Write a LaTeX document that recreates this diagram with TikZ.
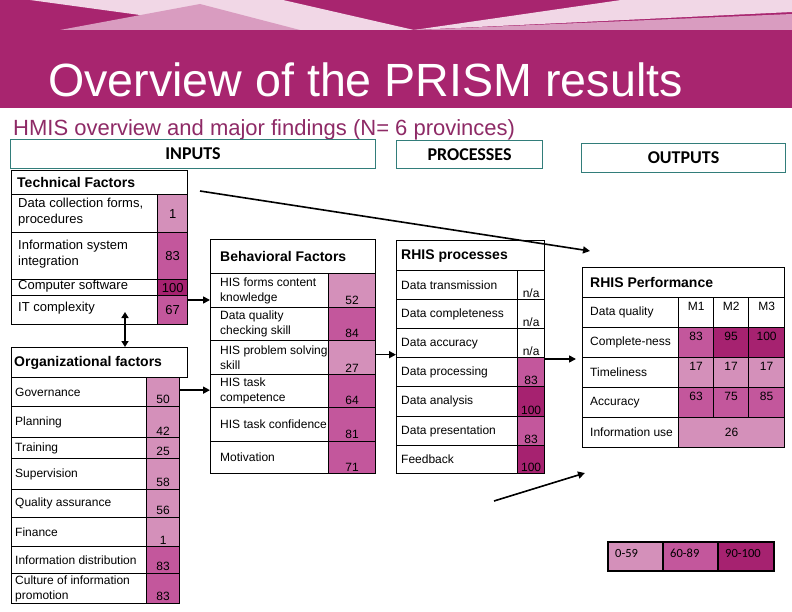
\documentclass[tikz,border=0pt]{standalone}
\usepackage{fontspec}
\setmainfont{Liberation Sans}
\newfontfamily\calfont{Carlito}
\usetikzlibrary{positioning}
\usetikzlibrary{calc}
\usetikzlibrary{arrows.meta}
\definecolor{prism-mag}{HTML}{A8256F}
\definecolor{prism-sub}{HTML}{8E2A66}
\definecolor{prism-teal}{HTML}{327D7A}
\definecolor{hd-pale}{HTML}{F1D7E6}
\definecolor{hd-lt}{HTML}{D99CC0}
\definecolor{sc-lo}{HTML}{D490BA}
\definecolor{sc-mid}{HTML}{C3579C}
\definecolor{sc-hi}{HTML}{A62270}
\tikzset{
  cell/.style={draw=black, line width=1.3pt, anchor=north west, inner sep=0pt},
  lbl/.style={inner sep=0pt, align=left, font=\fontsize{12}{15}\selectfont},
  num/.style={inner sep=2pt, font=\fontsize{12}{14}\selectfont},
  head/.style={inner sep=0pt, font=\bfseries\fontsize{14}{16}\selectfont},
  sect/.style={draw=prism-teal, line width=1.1pt, anchor=north west,
    font=\calfont\bfseries\fontsize{18}{20}\selectfont},
  arr/.style={line width=1.6pt, -{Triangle[length=7pt,width=7pt]}},
}

\begin{document}
\begin{tikzpicture}[x=1pt, y=-1pt]
  \useasboundingbox (0,0) rectangle (792,612);

  % title band
  \fill[prism-mag] (0,0) rectangle (792,108);
  \fill[hd-pale] (30,0) -- (283,0) -- (414,30) -- (250,30) -- cycle;
  \fill[hd-lt] (60,30) -- (200,4) -- (300,30) -- cycle;
  \fill[hd-pale] (621,0) -- (792,0) -- (792,12) -- (414,30) -- cycle;
  \fill[hd-lt] (414,30) -- (792,14) -- (792,30) -- cycle;
  \node[inner sep=0pt, anchor=base west, text=white,
    font=\fontsize{46.6}{50}\selectfont] (ttl) at (48,97) {Overview of the PRISM results};
  \node[inner sep=0pt, anchor=base west, text=prism-sub,
    font=\fontsize{22}{24}\selectfont] (sub) at (13,136) {HMIS overview and major findings (N= 6 provinces)};

  % section boxes
  \node[sect, minimum width=365pt, minimum height=29pt] (s-in) at (10,139) {INPUTS};
  \node[sect, minimum width=146pt, minimum height=28pt] (s-pr) at (396,140) {PROCESSES};
  \node[sect, minimum width=204pt, minimum height=29pt] (s-out) at (581,143) {OUTPUTS};

  % technical factors
  \node[cell, minimum width=176pt, minimum height=24pt] (tf-t) at (11,170) {};
  \node[head, right=6pt of tf-t.west] (tf-h) {Technical Factors};
  \foreach \lab/\val/\ya/\yb/\col [count=\i] in {
      {Data collection forms,\\procedures}/1/194/232/sc-lo,
      {Information system\\integration}/83/232/279/sc-mid,
      {Computer software}/100/279/295/sc-hi,
      {IT complexity}/67/295/324/sc-mid} {
    \pgfmathsetmacro{\h}{\yb-\ya}
    \node[cell, minimum width=146pt, minimum height=\h pt] (tf-l\i) at (11,\ya) {};
    \node[cell, fill=\col, minimum width=30pt, minimum height=\h pt] (tf-v\i) at (157,\ya) {};
    \node[lbl, font=\fontsize{13}{16}\selectfont, right=7pt of tf-l\i.west, yshift=2pt] (tf-lt\i) {\lab};
    \node[num, font=\fontsize{13}{15}\selectfont] (tf-n\i) at (tf-v\i.center) {\val};
  }

  % organizational factors
  \node[cell, minimum width=176pt, minimum height=30pt] (og-t) at (11,347) {};
  \node[head, right=3pt of og-t.west] (og-h) {Organizational factors};
  \foreach \lab/\val/\ya/\yb/\col [count=\i] in {
      Governance/50/377/406/sc-lo,
      Planning/42/406/437/sc-lo,
      Training/25/437/458/sc-lo,
      Supervision/58/458/489/sc-lo,
      Quality assurance/56/489/517/sc-lo,
      Finance/1/517/546/sc-lo,
      Information distribution/83/546/573/sc-mid,
      {Culture of information\\promotion}/83/573/603/sc-mid} {
    \pgfmathsetmacro{\h}{\yb-\ya}
    \node[cell, minimum width=135pt, minimum height=\h pt] (og-l\i) at (11,\ya) {};
    \node[cell, fill=\col, minimum width=33pt, minimum height=\h pt] (og-v\i) at (146,\ya) {};
    \node[lbl, right=4pt of og-l\i.west] (og-lt\i) {\lab};
    \node[num, above=1pt of og-v\i.south] (og-n\i) {\val};
  }

  % behavioral factors
  \node[cell, minimum width=165pt, minimum height=34pt] (bf-t) at (210,239) {};
  \node[head, right=10pt of bf-t.west] (bf-h) {Behavioral Factors};
  \foreach \lab/\val/\ya/\yb/\col [count=\i] in {
      {HIS forms content\\knowledge}/52/273/307/sc-lo,
      {Data quality\\checking skill}/84/307/340/sc-mid,
      {HIS problem solving\\skill}/27/340/374/sc-lo,
      {HIS task\\competence}/64/374/407/sc-mid,
      {HIS task confidence}/81/407/441/sc-mid,
      {Motivation}/71/441/473/sc-mid} {
    \pgfmathsetmacro{\h}{\yb-\ya}
    \node[cell, minimum width=118pt, minimum height=\h pt] (bf-l\i) at (210,\ya) {};
    \node[cell, fill=\col, minimum width=47pt, minimum height=\h pt] (bf-v\i) at (328,\ya) {};
    \node[lbl, right=10pt of bf-l\i.west] (bf-lt\i) {\lab};
    \node[num, above=1pt of bf-v\i.south] (bf-n\i) {\val};
  }

  % RHIS processes
  \node[cell, minimum width=148pt, minimum height=30pt] (rp-t) at (396,240) {};
  \node[head, right=5pt of rp-t.west] (rp-h) {RHIS processes};
  \foreach \lab/\val/\ya/\yb/\col [count=\i] in {
      Data transmission/n\slash a/270/299/white,
      Data completeness/n\slash a/299/328/white,
      Data accuracy/n\slash a/328/357/white,
      Data processing/83/357/386/sc-mid,
      Data analysis/100/386/416/sc-hi,
      Data presentation/83/416/445/sc-mid,
      Feedback/100/445/473/sc-hi} {
    \pgfmathsetmacro{\h}{\yb-\ya}
    \node[cell, minimum width=121pt, minimum height=\h pt] (rp-l\i) at (396,\ya) {};
    \node[cell, fill=\col, minimum width=27pt, minimum height=\h pt] (rp-v\i) at (517,\ya) {};
    \node[lbl, right=5pt of rp-l\i.west] (rp-lt\i) {\lab};
    \node[num, above=0pt of rp-v\i.south] (rp-n\i) {\val};
  }

  % RHIS performance
  \node[cell, minimum width=202pt, minimum height=30pt] (pf-t) at (582,267) {};
  \node[head, right=8pt of pf-t.west] (pf-h) {RHIS Performance};
  \foreach \lab/\va/\fa/\vb/\fb/\vc/\fc [count=\i] in {
      Data quality/M1/white/M2/white/M3/white,
      Complete-ness/83/sc-mid/95/sc-hi/100/sc-hi,
      Timeliness/17/sc-lo/17/sc-lo/17/sc-lo,
      Accuracy/63/sc-mid/75/sc-mid/85/sc-mid} {
    \pgfmathsetmacro{\ya}{267+30*\i}
    \node[cell, minimum width=96pt, minimum height=30pt] (pf-l\i) at (582,\ya) {};
    \node[cell, fill=\fa, minimum width=35pt, minimum height=30pt] (pf-a\i) at (678,\ya) {};
    \node[cell, fill=\fb, minimum width=35pt, minimum height=30pt] (pf-b\i) at (713,\ya) {};
    \node[cell, fill=\fc, minimum width=36pt, minimum height=30pt] (pf-c\i) at (748,\ya) {};
    \node[lbl, right=8pt of pf-l\i.west] (pf-lt\i) {\lab};
    \node[num, below=3pt of pf-a\i.north] (pf-na\i) {\va};
    \node[num, below=3pt of pf-b\i.north] (pf-nb\i) {\vb};
    \node[num, below=3pt of pf-c\i.north] (pf-nc\i) {\vc};
  }
  \node[cell, minimum width=96pt, minimum height=30pt] (pf-l5) at (582,417) {};
  \node[cell, fill=sc-lo, minimum width=106pt, minimum height=30pt] (pf-a5) at (678,417) {};
  \node[lbl, right=8pt of pf-l5.west] (pf-lt5) {Information use};
  \node[num] (pf-na5) at (pf-a5.center) {26};

  % legend
  \foreach \txt/\x/\w/\col [count=\i] in {0-59/607/55/sc-lo, 60-89/662/55/sc-mid, 90-100/717/56/sc-hi} {
    \node[cell, line width=2pt, fill=\col, minimum width=\w pt, minimum height=29pt] (lg\i) at (\x,541) {};
    \node[inner sep=0pt, font=\calfont\fontsize{12.5}{14}\selectfont, right=8pt of lg\i.west, yshift=3pt] (lg-t\i) {\txt};
  }

  % connectors
  \draw[arr] ([yshift=-5pt]tf-v4.north east) coordinate (c-tf) -- (c-tf -| bf-l1.west);
  \draw[arr] ([yshift=2pt]og-v1.east) coordinate (c-og) -- (c-og -| bf-l4.west);
  \draw[arr] ([yshift=3pt]bf-v3.east) coordinate (c-bf) -- (c-bf -| rp-l4.west);
  \draw[arr] ([yshift=-2pt]rp-v4.north east) coordinate (c-rp) -- ([xshift=-6pt]c-rp -| pf-l2.west);
  \coordinate (lk-a) at (125,312);
  \draw[line width=1.6pt, {Triangle[length=6pt,width=7pt]}-{Triangle[length=6pt,width=7pt]}]
    (lk-a) -- (lk-a |- og-t.north);
  \coordinate (lt-a) at (200,191);
  \coordinate (lt-b) at (590,251);
  \draw[arr] (lt-a) -- (lt-b);
  \coordinate (fb-a) at (494,501);
  \coordinate (fb-b) at (585,473);
  \draw[arr] (fb-a) -- (fb-b);
\end{tikzpicture}
\end{document}
